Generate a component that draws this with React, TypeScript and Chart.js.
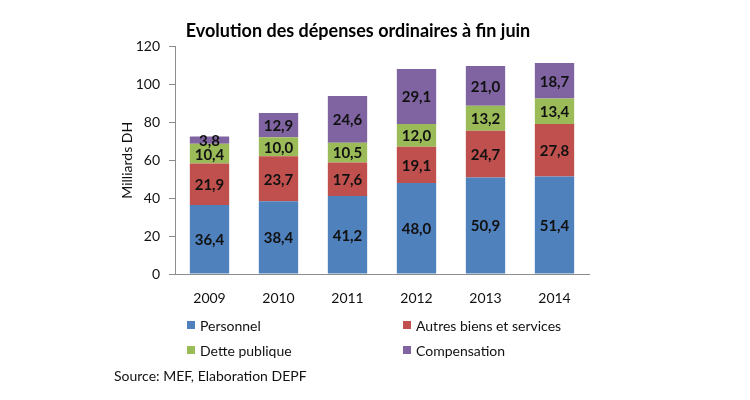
import React, { useEffect, useRef } from "react";
import { Chart, registerables } from "chart.js";

Chart.register(...registerables);

const years = ["2009", "2010", "2011", "2012", "2013", "2014"];
const personnel = [36.4, 38.4, 41.2, 48.0, 50.9, 51.4];
const autresBiens = [21.9, 23.7, 17.6, 19.1, 24.7, 27.8];
const dettePublique = [10.4, 10.0, 10.5, 12.0, 13.2, 13.4];
const compensation = [3.8, 12.9, 24.6, 29.1, 21.0, 18.7];
const seriesNames = ["Personnel", "Autres biens et services", "Dette publique", "Compensation"];
const seriesColors = ["#4F81BD", "#C0504D", "#9BBB59", "#8064A2"];
const yTicks = [0, 20, 40, 60, 80, 100, 120];
const titleText = "Evolution des dépenses ordinaires à fin juin";
const yTitle = "Milliards DH";
const sourceText = "Source: MEF, Elaboration DEPF";

const FONT = "Lato, 'Open Sans', sans-serif";

const valueLabels = {
  id: "valueLabels",
  afterDatasetsDraw(chart: any) {
    const ctx = chart.ctx;
    ctx.save();
    ctx.font = `bold 15px ${FONT}`;
    ctx.fillStyle = "#111111";
    ctx.textAlign = "center";
    ctx.textBaseline = "middle";
    chart.data.datasets.forEach((ds: any, di: number) => {
      const meta = chart.getDatasetMeta(di);
      meta.data.forEach((bar: any, i: number) => {
        const v = ds.data[i] as number;
        const y = (bar.y + bar.base) / 2;
        ctx.fillText(v.toFixed(1).replace(".", ","), bar.x, y + 1);
      });
    });
    ctx.restore();
  },
};

export default function App() {
  const canvasRef = useRef<HTMLCanvasElement | null>(null);

  useEffect(() => {
    if (!canvasRef.current) return;
    const data = [personnel, autresBiens, dettePublique, compensation];
    const chart = new Chart(canvasRef.current, {
      type: "bar",
      data: {
        labels: years,
        datasets: data.map((d, i) => ({
          label: seriesNames[i],
          data: d,
          backgroundColor: seriesColors[i],
          borderWidth: 0,
          categoryPercentage: 1,
          barPercentage: 0.57,
        })),
      },
      options: {
        responsive: false,
        animation: false,
        events: [],
        layout: { padding: { left: 127, right: 161, top: 0, bottom: 96 } },
        plugins: {
          legend: { display: false },
          tooltip: { enabled: false },
          title: {
            display: true,
            text: titleText,
            color: "#000000",
            font: { family: FONT, size: 18, weight: "bold" },
            padding: { top: 20, bottom: 5 },
          },
        },
        scales: {
          x: {
            stacked: true,
            grid: { display: false },
            border: { display: true, color: "#8c8c8c", width: 1 },
            ticks: {
              color: "#111111",
              font: { family: FONT, size: 14 },
              padding: 8,
            },
            afterFit(scale: any) {
              scale.height = 30;
            },
          },
          y: {
            stacked: true,
            min: 0,
            max: 120,
            afterBuildTicks(scale: any) {
              scale.ticks = yTicks.map((v) => ({ value: v }));
            },
            grid: {
              display: true,
              drawOnChartArea: false,
              drawTicks: true,
              tickLength: 6,
              color: "#8c8c8c",
            },
            border: { display: true, color: "#8c8c8c", width: 1 },
            ticks: {
              color: "#111111",
              font: { family: FONT, size: 14 },
              padding: 9,
            },
            title: {
              display: true,
              text: yTitle,
              color: "#111111",
              font: { family: FONT, size: 14 },
              padding: { top: -8.4, bottom: 0 },
            },
            afterFit(scale: any) {
              scale.width = 48;
            },
          },
        },
      },
      plugins: [valueLabels],
    });
    return () => chart.destroy();
  }, []);

  const legendItems = [
    { name: seriesNames[0], color: seriesColors[0], left: 187, top: 325 },
    { name: seriesNames[1], color: seriesColors[1], left: 403, top: 325 },
    { name: seriesNames[2], color: seriesColors[2], left: 187, top: 350 },
    { name: seriesNames[3], color: seriesColors[3], left: 403, top: 350 },
  ];

  return (
    <div
      style={{
        position: "absolute",
        left: 0,
        top: 0,
        width: 750,
        height: 400,
        background: "#ffffff",
        fontFamily: FONT,
        overflow: "hidden",
      }}
    >
      <canvas ref={canvasRef} width={750} height={400} style={{ display: "block", width: 750, height: 400 }} />
      {legendItems.map((it) => (
        <div
          key={it.name}
          style={{
            position: "absolute",
            left: it.left,
            top: it.top - 9,
            height: 18,
            display: "flex",
            alignItems: "center",
            fontSize: 14,
            color: "#111111",
            whiteSpace: "nowrap",
          }}
        >
          <span style={{ display: "inline-block", width: 8, height: 8, background: it.color, marginRight: 5 }} />
          <span>{it.name}</span>
        </div>
      ))}
      <div
        style={{
          position: "absolute",
          left: 114,
          top: 376 - 9,
          height: 18,
          lineHeight: "18px",
          fontSize: 14,
          color: "#111111",
          whiteSpace: "nowrap",
        }}
      >
        {sourceText}
      </div>
    </div>
  );
}
